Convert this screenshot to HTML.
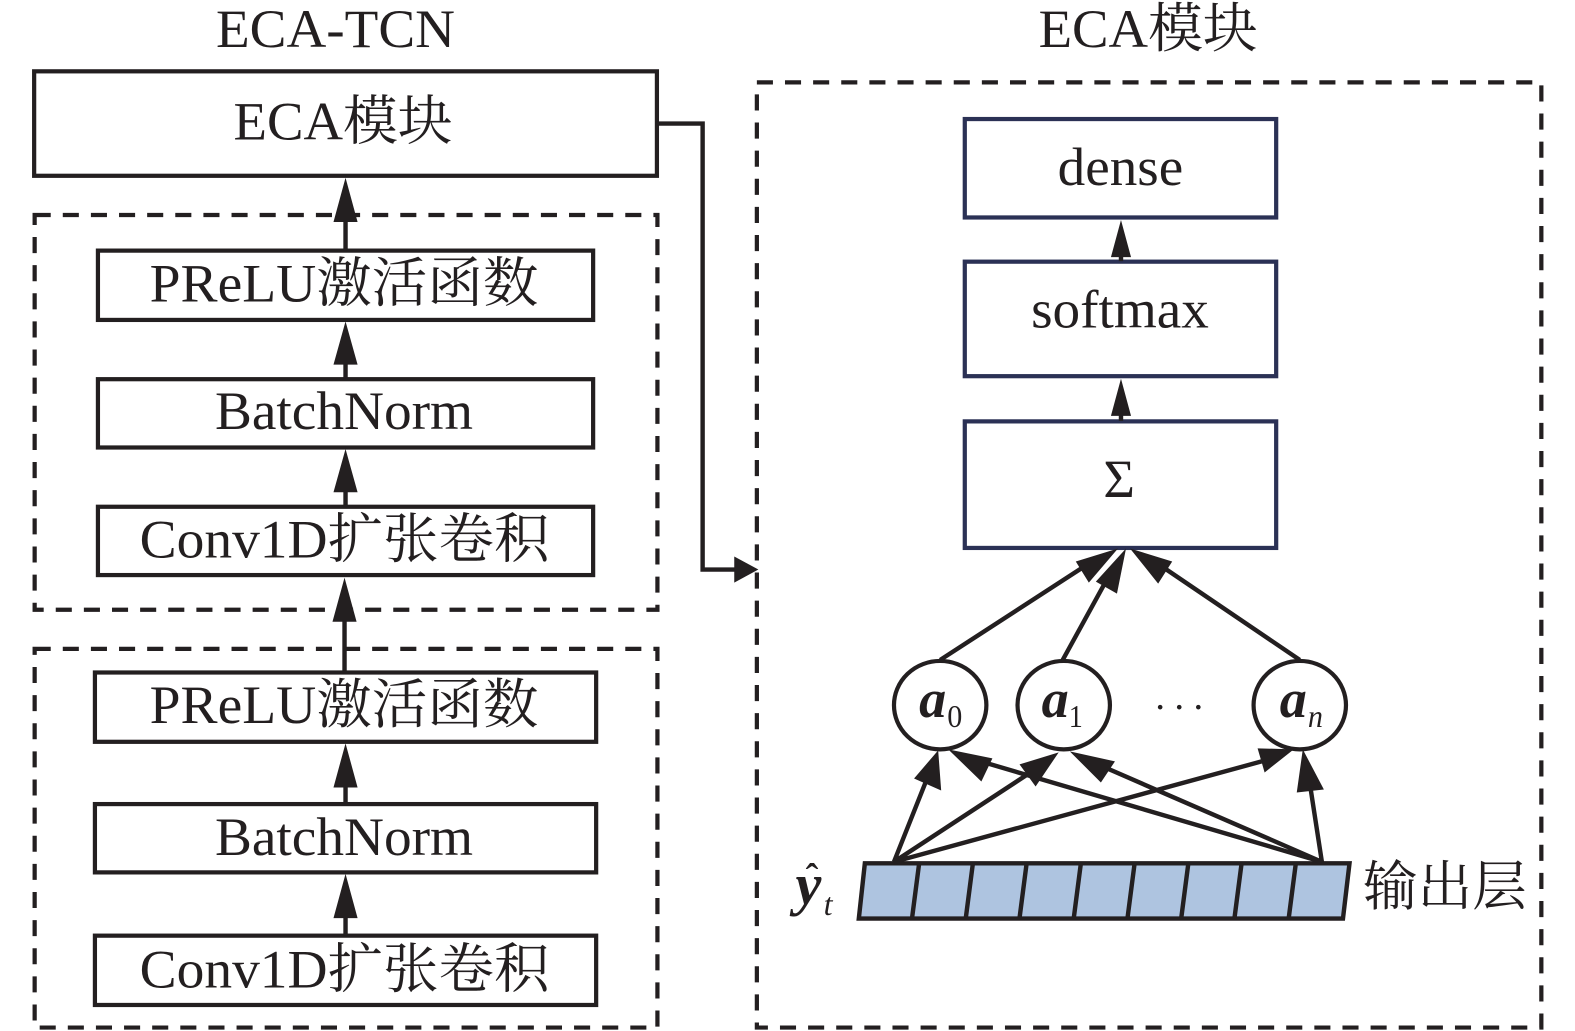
<!DOCTYPE html>
<html><head><meta charset="utf-8"><style>
html,body{margin:0;padding:0;background:#fff}
svg{display:block}
text{font-family:"Liberation Serif","Noto Serif CJK SC",serif;fill:#231f20}
.b{fill:#fff;stroke:#231f20;stroke-width:4.2}
.n{fill:#fff;stroke:#2b3155;stroke-width:4.2}
.d{fill:none;stroke:#231f20;stroke-width:4.2;stroke-dasharray:16 12}
.l{fill:none;stroke:#231f20;stroke-width:4.4}
.h{fill:#231f20}
.t{font-size:54px}
</style></head><body>
<svg width="1575" height="1031" viewBox="0 0 1568 1026.4" xmlns="http://www.w3.org/2000/svg">
<rect width="1568" height="1027" fill="#fff"/>
<text class="t" x="215" y="47" textLength="238" lengthAdjust="spacingAndGlyphs">ECA-TCN</text>
<text class="t" x="1034" y="47" textLength="218" lengthAdjust="spacingAndGlyphs">ECA模块</text>

<rect class="d" x="34.500" y="214" width="620" height="393"/>
<rect class="d" x="34.500" y="646" width="620" height="377"/>
<rect class="d" x="753.500" y="82" width="781" height="941"/>

<rect class="b" x="34" y="71" width="620" height="104"/>
<text class="t" x="232.500" y="139" textLength="218" lengthAdjust="spacingAndGlyphs">ECA模块</text>

<rect class="b" x="97.500" y="249.500" width="493" height="69"/>
<text class="t" x="149" y="300" textLength="387" lengthAdjust="spacingAndGlyphs">PReLU激活函数</text>
<rect class="b" x="97.500" y="377.500" width="493" height="68"/>
<text class="t" x="214" y="427" textLength="257" lengthAdjust="spacingAndGlyphs">BatchNorm</text>
<rect class="b" x="97.500" y="504.500" width="493" height="68"/>
<text class="t" x="139" y="555" textLength="408" lengthAdjust="spacingAndGlyphs">Conv1D扩张卷积</text>

<rect class="b" x="94.500" y="669.500" width="499" height="69"/>
<text class="t" x="149" y="720" textLength="387" lengthAdjust="spacingAndGlyphs">PReLU激活函数</text>
<rect class="b" x="94.500" y="800.500" width="499" height="68"/>
<text class="t" x="214" y="851" textLength="257" lengthAdjust="spacingAndGlyphs">BatchNorm</text>
<rect class="b" x="94.500" y="931.500" width="499" height="69"/>
<text class="t" x="139" y="983" textLength="408" lengthAdjust="spacingAndGlyphs">Conv1D扩张卷积</text>

<!-- left arrows -->
<path class="l" d="M344 249V215M344 377V360M344 504V488M343 669V610M344 800V782M344 931V912"/>
<path class="h" d="M344 177l12 44h-24zM344 320l12 43h-24zM344 447l12 43h-24zM343 575l12 44h-24zM344 740l12 44h-24zM344 870l12 44h-24z"/>

<path class="l" d="M654 123H699.500V567H735"/>
<path class="h" d="M755 567l-24 -13v26z"/>

<!-- right boxes -->
<rect class="n" x="960.500" y="118.500" width="310" height="98"/>
<text class="t" x="1053" y="184" textLength="125" lengthAdjust="spacingAndGlyphs">dense</text>
<rect class="n" x="960.500" y="260.500" width="310" height="114"/>
<text class="t" x="1026.500" y="326" textLength="177" lengthAdjust="spacingAndGlyphs">softmax</text>
<rect class="n" x="960.500" y="419.500" width="310" height="126"/>
<text class="t" x="1098.500" y="495">Σ</text>

<path class="l" d="M1116 260V250M1116 419V410"/>
<path class="h" d="M1116 219l10 37h-20zM1116 377l10 37h-20z"/>

<!-- top fan -->
<path class="l" d="M936 657L1084 561M1058 657L1103 575M1294 657L1148 558"/>
<path class="h" d="M1113 546L1071 559L1084 580ZM1121 546L1091 579L1112 591ZM1125 546L1167 559L1153 581Z"/>

<!-- circles -->
<ellipse class="b" cx="936" cy="702" rx="46" ry="44"/>
<ellipse class="b" cx="1059" cy="702" rx="46" ry="44"/>
<ellipse class="b" cx="1294" cy="702" rx="46" ry="44"/>
<text x="915" y="714" font-size="54" font-weight="bold" font-style="italic">a</text>
<text x="943" y="724" font-size="32" textLength="15" lengthAdjust="spacingAndGlyphs">0</text>
<text x="1037" y="714" font-size="54" font-weight="bold" font-style="italic">a</text>
<text x="1064" y="724" font-size="32" textLength="14" lengthAdjust="spacingAndGlyphs">1</text>
<text x="1274" y="714" font-size="54" font-weight="bold" font-style="italic">a</text>
<text x="1302" y="724" font-size="32" font-style="italic" textLength="15" lengthAdjust="spacingAndGlyphs">n</text>
<circle class="h" cx="1155" cy="704" r="2.300"/><circle class="h" cx="1174" cy="704" r="2.300"/><circle class="h" cx="1193" cy="704" r="2.300"/>

<!-- bottom bar -->
<path d="M861 859.500H1343.500L1337 914.500H855Z" fill="#aec4e0" stroke="#231f20" stroke-width="4.400"/>
<path class="l" d="M915 860L908 914M968.500 860L961.500 914M1022 860L1015 914M1076 860L1069 914M1129.500 860L1122.500 914M1183 860L1176 914M1236 860L1229 914M1290 860L1283 914"/>

<!-- lower fan -->
<path class="l" d="M890 858L923 775M890 858L1029 767M890 858L1256 758M1316 858L973 757M1316 858L1093 761M1316 858L1304 780"/>
<path class="h" d="M934 747L937 787L910 775ZM1054 749L1031 783L1015 761ZM1288 746L1259 769L1252 745ZM944 746L988 755L977 778ZM1065 748L1110 758L1096 779ZM1297 746L1318 786L1291 789Z"/>

<!-- y hat t -->
<text x="792" y="900" font-size="58" font-weight="bold" font-style="italic">y</text>
<text x="802" y="886" font-size="38" font-weight="bold">ˆ</text>
<text x="820" y="911" font-size="32" font-style="italic">t</text>
<text class="t" x="1357" y="901" textLength="163" lengthAdjust="spacingAndGlyphs">输出层</text>
</svg>
</body></html>
